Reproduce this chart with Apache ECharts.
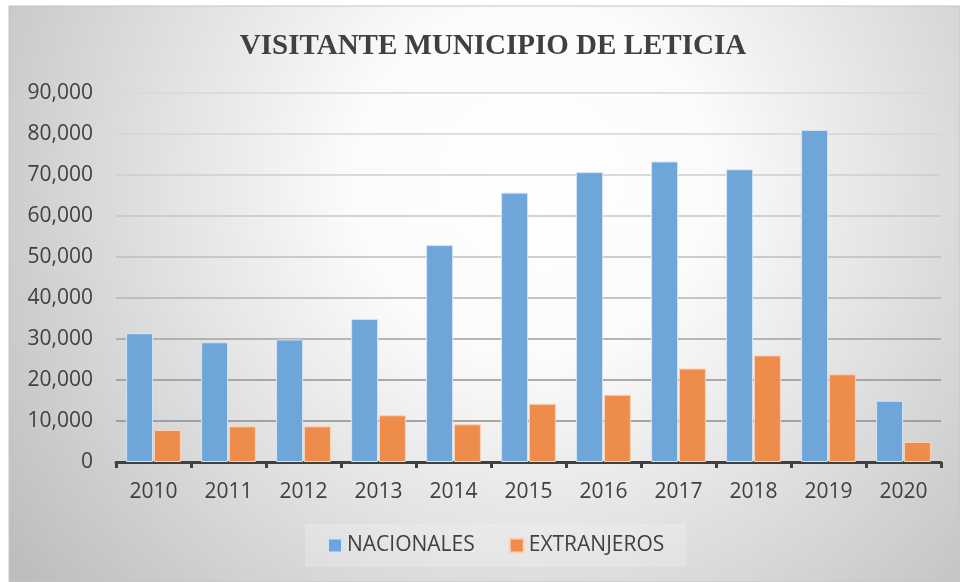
<!DOCTYPE html>
<html>
<head>
<meta charset="utf-8">
<script src="https://cdn.jsdelivr.net/npm/echarts@6/dist/echarts.min.js"></script>
<style>
  html, body { margin: 0; padding: 0; background: #fff; }
  #chart { width: 960px; height: 582px; }
</style>
</head>
<body>
<div id="chart"></div>
<script>
const years = ['2010', '2011', '2012', '2013', '2014', '2015', '2016', '2017', '2018', '2019', '2020'];
const nacionales = [31400, 29200, 29900, 34900, 52900, 65700, 70700, 73300, 71400, 81000, 14950];
const extranjeros = [7800, 8700, 8700, 11400, 9200, 14200, 16400, 22800, 26000, 21400, 4900];

const chart = echarts.init(document.getElementById('chart'));
const font = '"Open Sans", "Liberation Sans", sans-serif';

// líneas de cuadrícula: más oscuras abajo, más claras arriba
const gridColors = ['#888888', '#8c8c8c', '#939393', '#a0a0a0', '#b3b3b3', '#bdbdbd', '#c6c6c6', '#cecece', '#d4d4d4', '#d8d8d8'];

chart.setOption({
  animation: false,
  backgroundColor: '#ffffff',
  graphic: [
    {
      type: 'rect',
      z: -100,
      shape: { x: 9, y: 6, width: 951, height: 576 },
      style: {
        fill: new echarts.graphic.RadialGradient(0.55, 0.3, 1.12, [
          { offset: 0, color: '#ffffff' },
          { offset: 0.28, color: '#fbfbfb' },
          { offset: 1, color: '#bdbdbd' }
        ]),
        stroke: '#c4c4c4',
        lineWidth: 1
      }
    }
  ],
  title: {
    text: 'VISITANTE MUNICIPIO DE LETICIA',
    left: 488,
    textAlign: 'center',
    top: 27,
    textStyle: {
      fontFamily: '"Liberation Serif", "Times New Roman", serif',
      fontWeight: 'bold',
      fontSize: 29,
      color: '#404040'
    }
  },
  legend: {
    bottom: 15,
    left: 305,
    icon: 'rect',
    itemWidth: 14,
    itemHeight: 14,
    itemGap: 34,
    padding: [11, 22],
    backgroundColor: 'rgba(255,255,255,0.2)',
    textStyle: { fontFamily: font, fontSize: 21, color: '#404040' },
    data: ['NACIONALES', 'EXTRANJEROS']
  },
  grid: { left: 116, right: 19, top: 93, bottom: 120, containLabel: false },
  xAxis: {
    type: 'category',
    data: years,
    axisLine: { lineStyle: { color: '#404040', width: 3 } },
    axisTick: { show: true, length: 6, lineStyle: { color: '#404040', width: 3 } },
    axisLabel: { fontFamily: font, fontSize: 21, color: '#404040', margin: 20 }
  },
  yAxis: {
    type: 'value',
    min: 0,
    max: 90000,
    interval: 10000,
    axisLine: { show: false },
    axisTick: { show: false },
    axisLabel: {
      fontFamily: font,
      fontSize: 21,
      color: '#404040',
      margin: 23,
      formatter: v => v.toLocaleString('en-US')
    },
    splitLine: { lineStyle: { color: gridColors, width: 1.5 } }
  },
  series: [
    {
      name: 'NACIONALES',
      type: 'bar',
      data: nacionales,
      barWidth: '36%',
      barGap: '3%',
      itemStyle: { color: '#6fa6da', borderColor: '#d3e4f4', borderWidth: 1 }
    },
    {
      name: 'EXTRANJEROS',
      type: 'bar',
      data: extranjeros,
      barWidth: '36%',
      itemStyle: { color: '#ee8c4c', borderColor: '#f9d3b9', borderWidth: 1 }
    }
  ]
});
</script>
</body>
</html>
